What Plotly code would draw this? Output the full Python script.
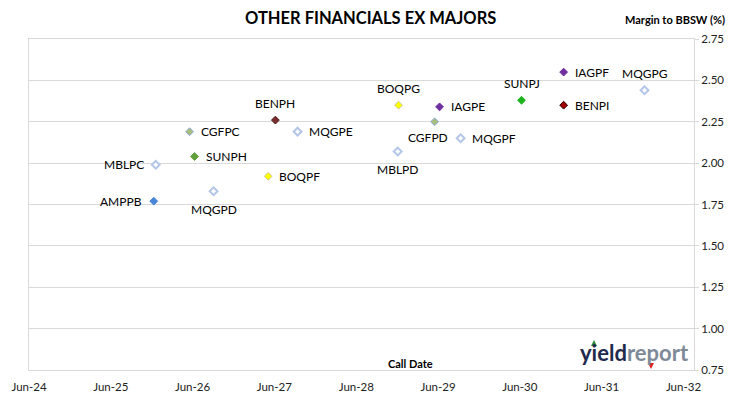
import plotly.graph_objects as go

# ---- data ----
securities = ["AMPPB", "MBLPC", "CGFPC", "SUNPH", "MQGPD", "BOQPF", "BENPH", "MQGPE",
              "MBLPD", "BOQPG", "CGFPD", "IAGPE", "MQGPF", "SUNPJ", "IAGPF", "BENPI", "MQGPG"]
call_dates = ["2025-12-10", "2025-12-19", "2026-05-19", "2026-06-10", "2026-09-03", "2027-05-05",
              "2027-06-06", "2027-09-13", "2028-12-03", "2028-12-07", "2029-05-17", "2029-06-08",
              "2029-09-10", "2030-06-09", "2030-12-14", "2030-12-14", "2031-12-10"]
margins = [1.77, 1.99, 2.19, 2.04, 1.83, 1.92, 2.26, 2.19,
           2.07, 2.35, 2.25, 2.34, 2.15, 2.38, 2.55, 2.35, 2.44]
tick_dates = ["2024-06-01", "2025-06-01", "2026-06-01", "2027-06-01", "2028-06-01",
              "2029-06-01", "2030-06-01", "2031-06-01", "2032-06-01"]
tick_labels = ["Jun-24", "Jun-25", "Jun-26", "Jun-27", "Jun-28", "Jun-29", "Jun-30", "Jun-31", "Jun-32"]

# ---- styles ----
fill_colors, line_colors, line_widths = [], [], []
for s in securities:
    p = s[:3]
    w = 1.0
    if p in ("MBL", "MQG"):
        fc, lc, w = "#FFFFFF", "#B4C6E7", 2.0
    elif p == "AMP":
        fc, lc = "#4A86D8", "#4A86D8"
    elif p == "CGF":
        fc, lc = "#A8BF7C", "#8FAADC"
    elif s == "SUNPH":
        fc, lc = "#62A03C", "#62A03C"
    elif s == "SUNPJ":
        fc, lc = "#1DB31D", "#1DB31D"
    elif p == "BOQ":
        fc, lc = "#FFFF00", "#C8C896"
    elif s == "BENPH":
        fc, lc = "#7B2C2C", "#4A1A1A"
    elif s == "BENPI":
        fc, lc = "#A00000", "#300000"
    else:
        fc, lc = "#7030A0", "#7030A0"
    fill_colors.append(fc); line_colors.append(lc); line_widths.append(w)

label_pos = {"AMPPB": "left", "MBLPC": "left", "CGFPC": "right", "SUNPH": "right",
             "MQGPD": "below", "BOQPF": "right", "BENPH": "above", "MQGPE": "right",
             "MBLPD": "below", "BOQPG": "above", "CGFPD": "belowleft", "IAGPE": "right",
             "MQGPF": "right", "SUNPJ": "above", "IAGPF": "right", "BENPI": "right", "MQGPG": "above"}

FONT = "Lato, 'Open Sans', sans-serif"
W, H = 730, 399
ML, MR, MT, MB = 29, 36, 39, 29

fig = go.Figure()
fig.add_trace(go.Scatter(
    x=call_dates, y=margins, mode="markers",
    marker=dict(symbol="diamond", size=6, color=fill_colors,
                line=dict(color=line_colors, width=line_widths)),
    showlegend=False, hoverinfo="text", text=securities,
))

annotations = []
for s, d, m in zip(securities, call_dates, margins):
    pos = label_pos[s]
    a = dict(x=d, y=m, xref="x", yref="y", text=s, showarrow=False,
             font=dict(family=FONT, size=12, color="#000000"))
    if pos == "right":
        a.update(xanchor="left", yanchor="middle", xshift=9)
    elif pos == "left":
        a.update(xanchor="right", yanchor="middle", xshift=-10)
    elif pos == "above":
        a.update(xanchor="center", yanchor="middle", yshift=17)
    elif pos == "below":
        a.update(xanchor="center", yanchor="middle", yshift=-18)
    else:
        a.update(xanchor="center", yanchor="middle", yshift=-16, xshift=-7)
    annotations.append(a)

plot_w = W - ML - MR
plot_h = H - MT - MB
def px(xp, yp):
    return (xp - ML) / plot_w, (H - MB - yp) / plot_h

tx, ty = px(370, 18)
annotations.append(dict(text="<b>OTHER FINANCIALS EX MAJORS</b>", x=tx, y=ty, xref="paper", yref="paper",
                        xanchor="center", yanchor="middle", showarrow=False,
                        font=dict(family=FONT, size=16.5, color="#000000")))
mx, my = px(727, 19)
annotations.append(dict(text="<b>Margin to BBSW (%)</b>", x=mx, y=my, xref="paper", yref="paper",
                        xanchor="right", yanchor="middle", showarrow=False,
                        font=dict(family=FONT, size=11, color="#000000")))
cx, cy = px(411, 363)
annotations.append(dict(text="<b>Call Date</b>", x=cx, y=cy, xref="paper", yref="paper",
                        xanchor="center", yanchor="middle", showarrow=False,
                        font=dict(family=FONT, size=11, color="#000000")))
lx, ly = px(634, 352)
annotations.append(dict(text="<b><span style='color:#1F2A4D'>yield</span><span style='color:#7F8A99'>report</span></b>",
                        x=lx, y=ly, xref="paper", yref="paper", xanchor="center", yanchor="middle",
                        showarrow=False, font=dict(family=FONT, size=22)))

# logo accent triangles as shapes
def tri(xc, yc, up, color, s=3):
    x0, y0 = px(xc - s, yc + (s if up else -s))
    x1, y1 = px(xc + s, yc + (s if up else -s))
    x2, y2 = px(xc, yc - (s if up else -s))
    return dict(type="path", xref="paper", yref="paper",
                path=f"M {x0} {y0} L {x1} {y1} L {x2} {y2} Z",
                fillcolor=color, line=dict(width=0))

shapes = [tri(594, 343, True, "#2E8B3A"), tri(651, 366, False, "#E02020")]

fig.update_layout(
    width=W, height=H,
    margin=dict(l=ML, r=MR, t=MT, b=MB),
    paper_bgcolor="#FFFFFF", plot_bgcolor="#FFFFFF",
    font=dict(family=FONT, size=11.5, color="#222222"),
    xaxis=dict(type="date", range=["2024-06-01", "2032-07-18"],
               tickvals=tick_dates, ticktext=tick_labels, showgrid=False,
               showline=True, linecolor="#D9D9D9", linewidth=1, mirror=True,
               ticks="", ticklabelstandoff=6, zeroline=False, automargin=False,
               tickfont=dict(family=FONT, size=11.5, color="#222222")),
    yaxis=dict(range=[0.75, 2.75], dtick=0.25, tick0=0.75, tickformat=".2f", side="right",
               showgrid=True, gridcolor="#D9D9D9", gridwidth=1,
               showline=True, linecolor="#D9D9D9", linewidth=1, mirror=True,
               ticks="outside", ticklen=4, tickcolor="#D9D9D9", zeroline=False, automargin=False,
               tickfont=dict(family=FONT, size=11.5, color="#222222")),
    showlegend=False,
    annotations=annotations,
    shapes=shapes,
)

fig.write_html("out.html", config={"displayModeBar": False},
               post_script="document.body.style.margin='0';document.body.style.overflow='hidden';")
